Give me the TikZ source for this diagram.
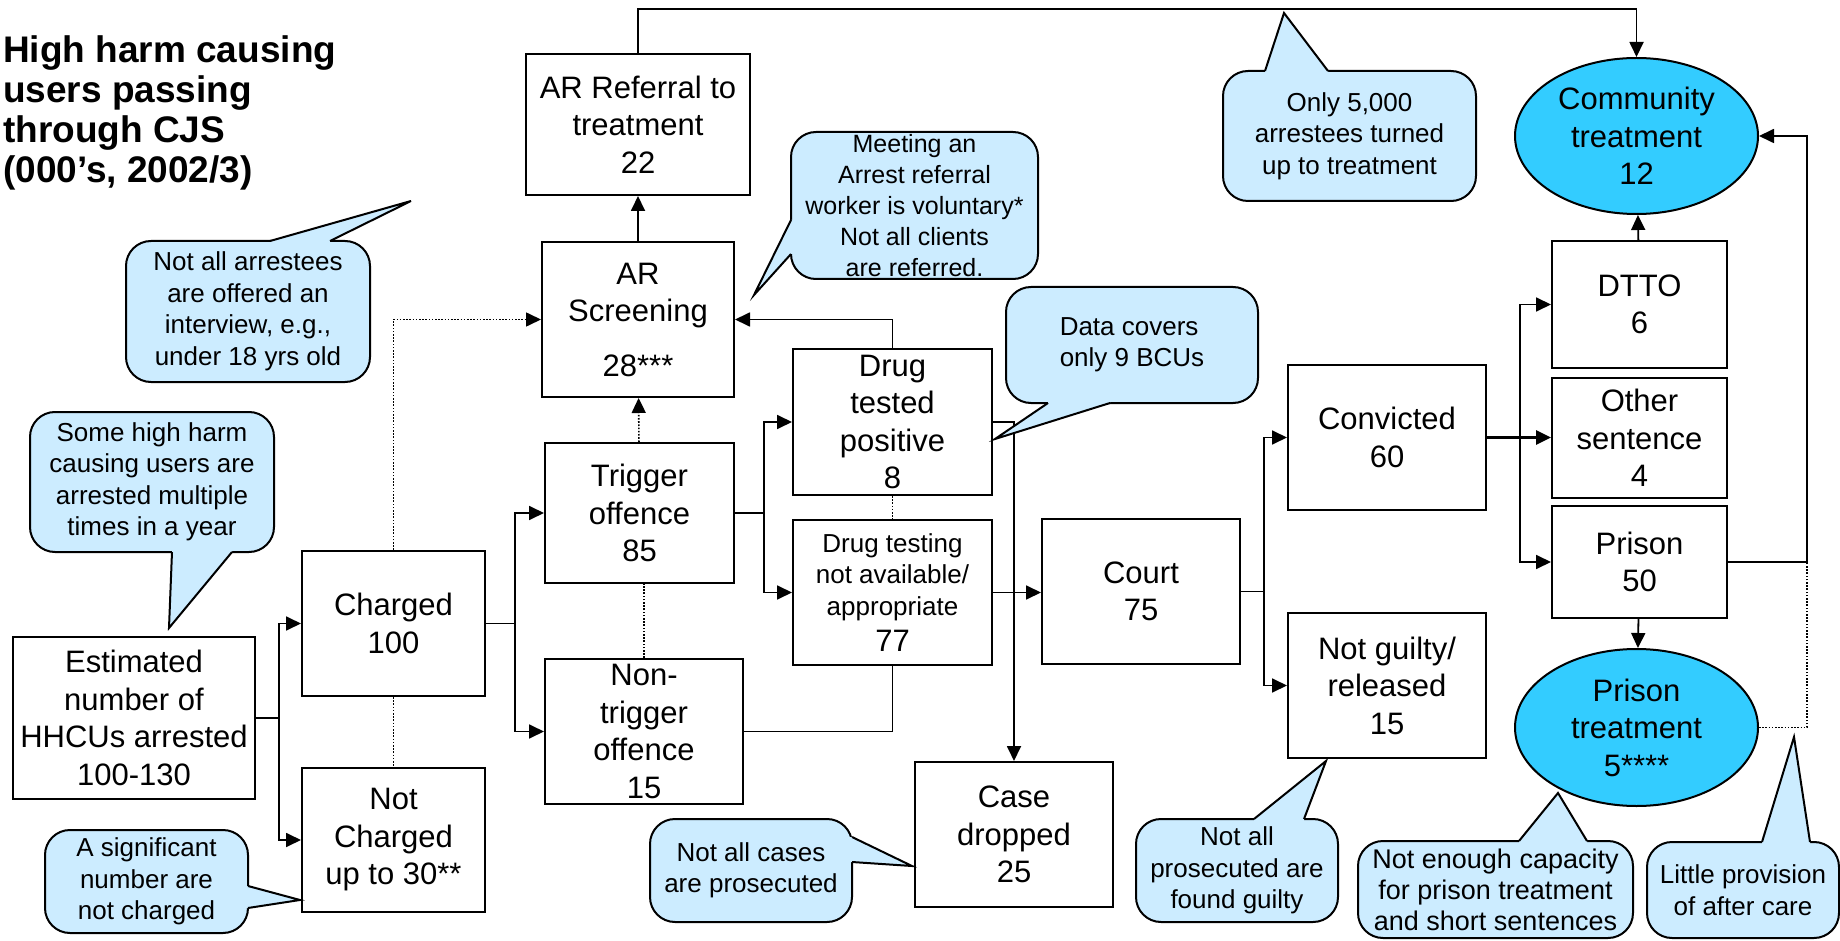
\documentclass[tikz,border=0pt]{standalone}
\usepackage{fontspec}
\setmainfont{Liberation Sans}
\usetikzlibrary{arrows.meta,calc,positioning,shapes.geometric}

\definecolor{callblue}{RGB}{204,236,255}
\definecolor{ovalblue}{RGB}{51,204,255}

\newcommand{\boxfont}{\fontsize{31}{37.5}\selectfont}
\newcommand{\smallboxfont}{\fontsize{26}{31.5}\selectfont}
\newcommand{\callfont}{\fontsize{26}{31.5}\selectfont}

\tikzset{
  box/.style={draw, line width=2pt, fill=white, inner sep=0pt, align=center, font=\boxfont},
  oval/.style={ellipse, draw, line width=2pt, fill=ovalblue, inner sep=0pt, align=center, font=\boxfont},
  cbox/.style={draw, line width=2pt, fill=callblue, rounded corners=25pt, inner sep=0pt, align=center, font=\callfont},
  calledge/.style={line width=2pt},
  link/.style={line width=1.8pt},
  flow/.style={link, -{Triangle[length=15pt,width=14pt]}},
  hint/.style={line width=1.6pt, dash pattern=on 1.6pt off 1.6pt},
  hintflow/.style={hint, -{Triangle[length=15pt,width=14pt]}}
}

% tail of a callout: base point, tip, base point, shift into the body
\newcommand{\calltail}[4]{%
  \fill[callblue] ($(#1)+(#4)$) -- (#1) -- (#2) -- (#3) -- ($(#3)+(#4)$) -- cycle;
  \draw[calledge] (#1) -- (#2) -- (#3);}

\begin{document}
\begin{tikzpicture}[x=1pt, y=-1pt, on grid]
   \path[use as bounding box, fill=white] (0,0) rectangle (1840,941);
   \coordinate (rail) at (0,9);
   \coordinate (ret) at (1807,0);

   \node[anchor=north west, inner sep=0pt, align=left, font=\fontsize{37}{40}\selectfont\bfseries] (title) at (3,35)
      {High harm causing\\users passing\\through CJS\\(000’s, 2002/3)};

   % arrest and charge
   \node[box, minimum width=242pt, minimum height=162pt] (est) at (134,718) {Estimated\\number of\\HHCUs arrested\\100-130};
   \node[box, minimum width=183pt, minimum height=145pt] (charged) at (393.5,623.5) {Charged\\100};
   \node[box, minimum width=183pt, minimum height=144pt] (notcharged) [below=216.5pt of charged] {Not\\Charged\\up to 30**};

   % arrest referral
   \node[box, minimum width=224pt, minimum height=141pt] (arref) at (638,124.5) {AR Referral to\\treatment\\22};
   \node[box, minimum width=192pt, minimum height=155pt] (arscreen) [below=195pt of arref] {AR\\Screening\\[17pt]28***};

   % offence and testing
   \node[box, minimum width=189pt, minimum height=140pt] (trigger) at (639.5,513) {Trigger\\offence\\85};
   \node[box, minimum width=198pt, minimum height=145pt] (nontrigger) at (644,731.5) {Non-\\trigger\\offence\\15};
   \node[box, minimum width=199pt, minimum height=146pt] (dtp) at (892.5,422) {Drug\\tested\\positive\\8};
   \node[box, minimum width=199pt, minimum height=145pt, font=\smallboxfont] (dtna) [below=170.5pt of dtp] {Drug testing\\not available/\\appropriate\\[5pt]{\boxfont 77}};

   % court
   \node[box, minimum width=198pt, minimum height=145pt] (court) at (1141,591.5) {Court\\75};
   \node[box, minimum width=198pt, minimum height=145pt] (casedrop) at (1014,834.5) {Case\\dropped\\25};
   \node[box, minimum width=198pt, minimum height=145pt] (convicted) at (1387,437.5) {Convicted\\60};
   \node[box, minimum width=198pt, minimum height=145pt] (notguilty) [below=248pt of convicted] {Not guilty/\\released\\15};

   % sentences and treatment
   \node[box, minimum width=175pt, minimum height=127pt] (dtto) at (1639.5,304.5) {DTTO\\6};
   \node[box, minimum width=175pt, minimum height=120pt] (other) [below=133.5pt of dtto] {Other\\sentence\\4};
   \node[box, minimum width=175pt, minimum height=112pt] (prison) [below=124pt of other] {Prison\\50};
   \node[oval, minimum width=243pt, minimum height=156pt] (comm) at (1636.5,136) {Community\\treatment\\12};
   \node[oval, minimum width=243pt, minimum height=157pt] (prisontr) at (1636.5,727.5) {Prison\\treatment\\5****};

   % connectors
   \draw[flow] (est.east) -- ++(23,0) |- (charged);
   \draw[flow] (est.east) -- ++(23,0) |- (notcharged);
   \draw[flow] (charged.east) -- ++(29,0) |- (trigger);
   \draw[flow] (charged.east) -- ++(29,0) |- (nontrigger);
   \draw[flow] (trigger.east) -- ++(29,0) |- (dtp);
   \draw[flow] (trigger.east) -- ++(29,0) |- (dtna);
   \draw[flow] (dtp.north) |- (arscreen.east);
   \draw[flow] (arscreen) -- (arref);
   \draw[flow] (arref.north) -- (arref.north |- rail) -| (comm.north);
   \draw[flow] (dtna.east) -- (dtna.east -| court.west);
   \draw[flow] (dtp.east) -| (casedrop.north);
   \draw[link] (nontrigger.east) -| (dtna.south);
   \draw[flow] (court.east) -- ++(23,0) |- (convicted);
   \draw[flow] (court.east) -- ++(23,0) |- (notguilty);
   \draw[flow] (convicted.east) -- ++(33,0) |- (dtto);
   \draw[flow] (convicted.east) -- ++(33,0) |- (prison);
   \draw[flow, line width=2.6pt] (convicted.east) -- (convicted.east -| other.west);
   \draw[flow] (dtto) -- (comm);
   \draw[flow] (prison) -- (prisontr);
   \draw[flow] (prison.east) -| (ret |- comm.east) -- (comm.east);

   % dotted links
   \draw[hintflow] (charged.north) |- (arscreen.west);
   \draw[hintflow] (trigger) -- (arscreen);
   \draw[hint] (charged) -- (notcharged);
   \draw[hint] (nontrigger.north) -- (nontrigger.north |- trigger.south);
   \draw[hint] (dtp) -- (dtna);
   \draw[hint] (prisontr.east) -| (ret |- prison.east);

   % callouts
   \node[cbox, minimum width=244pt, minimum height=141pt] (c_arrest) at (248,311.5) {Not all arrestees\\are offered an\\interview, e.g.,\\under 18 yrs old};
   \calltail{270,241}{411,201}{330,241}{0,3}
   \node[cbox, minimum width=244pt, minimum height=140pt] (c_multiple) at (152,482) {Some high harm\\causing users are\\arrested multiple\\times in a year};
   \calltail{172,552}{169,628}{232,552}{0,-3}
   \node[cbox, minimum width=203pt, minimum height=103pt] (c_notcharged) at (146.5,881.5) {A significant\\number are\\not charged};
   \calltail{248,886}{300,900}{248,908}{-3,0}
   \node[cbox, minimum width=247pt, minimum height=147pt, font=\fontsize{25}{31}\selectfont] (c_voluntary) at (914.5,205.5) {Meeting an\\Arrest referral\\worker is voluntary*\\Not all clients\\are referred.};
   \calltail{791,220}{754,295}{791,254}{3,0}
   \node[cbox, minimum width=252pt, minimum height=116pt, align=left] (c_bcu) at (1132,345) {Data covers\\only 9 BCUs};
   \calltail{1048,403}{995,439}{1110,403}{0,-3}
   \node[cbox, minimum width=253pt, minimum height=130pt] (c_turnup) at (1349.5,136) {Only 5,000\\arrestees turned\\up to treatment};
   \calltail{1265,71}{1284,13}{1328,71}{0,3}
   \node[cbox, minimum width=202pt, minimum height=103pt] (c_cases) at (751,870.5) {Not all cases\\are prosecuted};
   \calltail{852,837}{912,866}{852,862}{-3,0}
   \node[cbox, minimum width=202pt, minimum height=103pt] (c_guilty) at (1237,870.5) {Not all\\prosecuted are\\found guilty};
   \calltail{1254,819}{1326,761}{1304,819}{0,3}
   \node[cbox, minimum width=275pt, minimum height=97pt, font=\fontsize{27}{31}\selectfont] (c_capacity) at (1495.5,889.5) {Not enough capacity\\for prison treatment\\and short sentences};
   \calltail{1519,841}{1558,793}{1587,841}{0,3}
   \node[cbox, minimum width=192pt, minimum height=96pt] (c_aftercare) at (1743,890) {Little provision\\of after care};
   \calltail{1762,842}{1794,737}{1810,842}{0,3}
\end{tikzpicture}
\end{document}
